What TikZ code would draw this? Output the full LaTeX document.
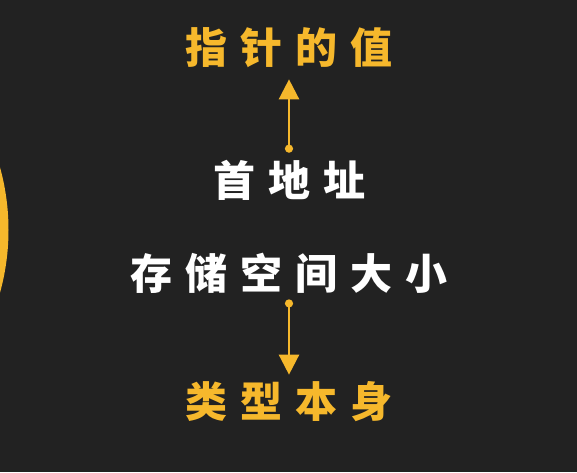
\documentclass[tikz,border=0pt]{standalone}
\usepackage{fontspec}
\usetikzlibrary{arrows.meta,positioning}
\newfontfamily\cjk[LetterSpace=31]{Noto Sans CJK SC}
\definecolor{bg}{HTML}{222222}
\definecolor{gold}{HTML}{F6B82C}

\begin{document}
\begin{tikzpicture}[x=1pt,y=-1pt,
    word/.style={font=\cjk\bfseries\fontsize{42}{42}\selectfont, inner sep=0pt},
    link/.style={gold, line width=2.5pt,
                 {Circle[length=8pt]}-{Triangle[width=20pt,length=20pt]}}]
  % Background
  \fill[bg] (0,0) rectangle (577,472);
  \useasboundingbox (0,0) rectangle (577,472);
  \clip (0,0) rectangle (577,472);
  % Disc at the left edge
  \fill[gold] (-225.5,230) circle (234);
  % Words
  \node[word, gold]  (value) at (289,48)  {指针的值};
  \node[word, white] (addr)  at (290,180) {首地址};
  \node[word, white] (size)  at (289,273) {存储空间大小};
  \node[word, gold]  (type)  at (289,402) {类型本身};
  % Arrows
  \draw[link, shorten <=7pt, shorten >=11pt] (addr.north -| 289,0) -- (value.south -| 289,0);
  \draw[link, shorten <=6pt, shorten >=7pt] (size.south -| 289,0) -- (type.north -| 289,0);
\end{tikzpicture}
\end{document}
